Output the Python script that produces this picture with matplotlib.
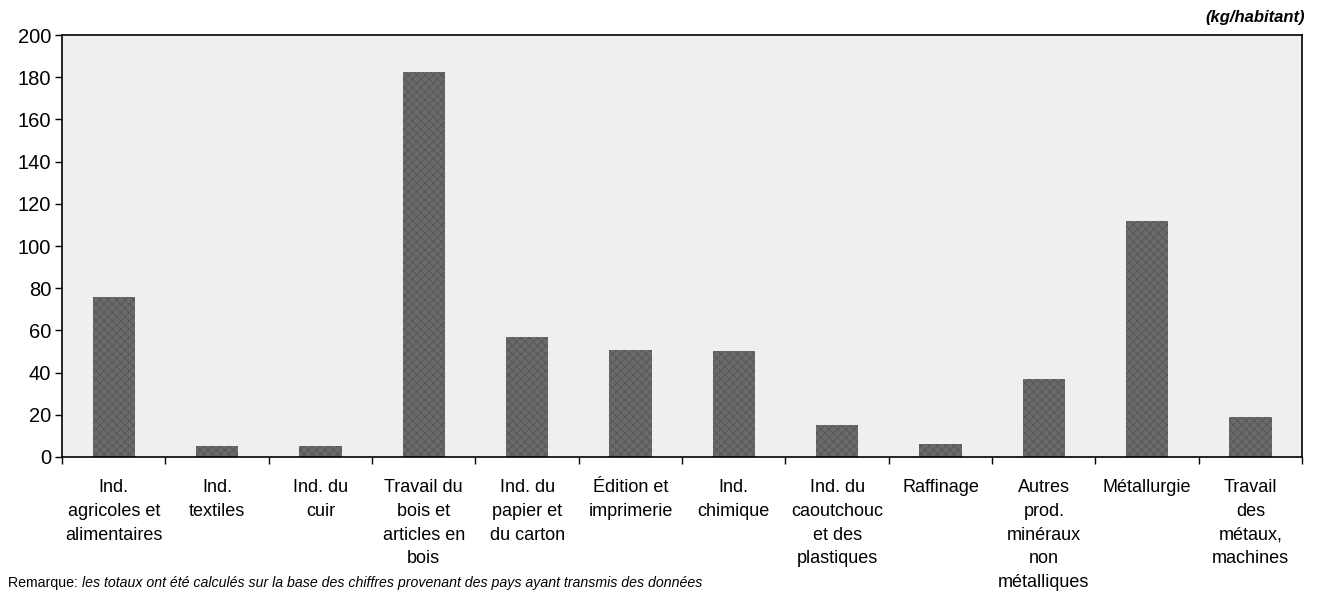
import numpy as np
import matplotlib
matplotlib.use("Agg")
from matplotlib import pyplot as plt

# categories (x labels) and values in kg/habitant
categories = ["Ind.\nagricoles et\nalimentaires",
              "Ind.\ntextiles",
              "Ind. du\ncuir",
              "Travail du\nbois et\narticles en\nbois",
              "Ind. du\npapier et\ndu carton",
              "Édition et\nimprimerie",
              "Ind.\nchimique",
              "Ind. du\ncaoutchouc\net des\nplastiques",
              "Raffinage",
              "Autres\nprod.\nminéraux\nnon\nmétalliques",
              "Métallurgie",
              "Travail\ndes\nmétaux,\nmachines"]
values = [76, 5, 5, 182.5, 57, 50.5, 50, 15, 6, 37, 112, 19]
yticks = [0, 20, 40, 60, 80, 100, 120, 140, 160, 180, 200]

plt.rcParams['font.family'] = ['Liberation Sans', 'DejaVu Sans']
plt.rcParams['hatch.color'] = '#2a2a2a'
plt.rcParams['hatch.linewidth'] = 0.6

fig = plt.figure(figsize=(13.22, 5.95), dpi=100)
ax = fig.add_axes([0.047, 0.232, 0.938, 0.709])
ax.set_facecolor('#efefef')

x = np.arange(len(categories))
ax.bar(x, values, width=0.41, color='#6a6a6a', hatch='xxxx',
       edgecolor='#555555', linewidth=0)

ax.set_xlim(-0.5, len(categories) - 0.5)
ax.set_ylim(0, 200)
ax.set_yticks(yticks)
ax.tick_params(axis='y', labelsize=14.5, length=5, width=1, direction='out', pad=3)

# category labels at centers, tick marks at boundaries
ax.set_xticks(x)
ax.set_xticklabels(categories, fontsize=13, linespacing=1.52, va='top')
ax.tick_params(axis='x', length=0, pad=16)
ax.set_xticks(np.arange(len(categories) + 1) - 0.5, minor=True)
ax.tick_params(axis='x', which='minor', length=5, width=1, direction='out')

for s in ax.spines.values():
  s.set_linewidth(1.2)
  s.set_color('black')

fig.text(0.987, 0.970, '(kg/habitant)', ha='right', va='center',
         fontsize=12, style='italic', fontweight='bold')
t = fig.text(0.006, 0.021, 'Remarque: ', ha='left', va='center', fontsize=10.2)
fig.canvas.draw()
bb = t.get_window_extent()
fig.text(bb.x1 / fig.bbox.width, 0.021,
         'les totaux ont été calculés sur la base des chiffres provenant des pays ayant transmis des données',
         ha='left', va='center', fontsize=10.2, style='italic')

fig.savefig('out.png', dpi=100)
